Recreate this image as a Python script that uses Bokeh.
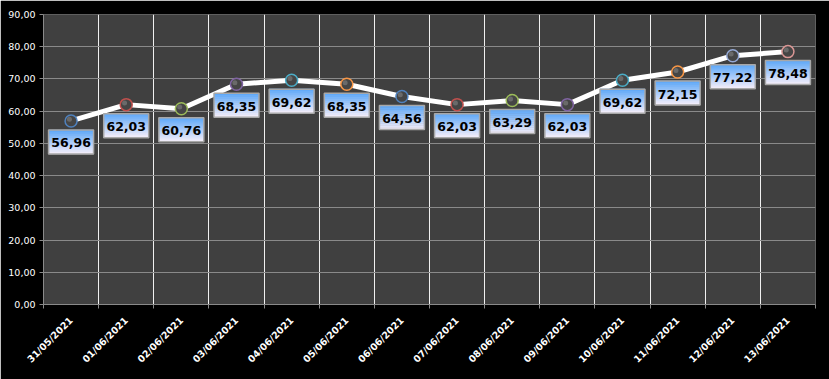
import numpy as np
from bokeh.plotting import figure
from bokeh.models import FixedTicker, Range1d
from bokeh.core.properties import value
from bokeh.embed import file_html
from bokeh.resources import INLINE

dates = ["31/05/2021", "01/06/2021", "02/06/2021", "03/06/2021", "04/06/2021",
         "05/06/2021", "06/06/2021", "07/06/2021", "08/06/2021", "09/06/2021",
         "10/06/2021", "11/06/2021", "12/06/2021", "13/06/2021"]
values = [56.96, 62.03, 60.76, 68.35, 69.62, 68.35, 64.56, 62.03, 63.29, 62.03,
          69.62, 72.15, 77.22, 78.48]
marker_colors = ["#4F81BD", "#C0504D", "#9BBB59", "#8064A2", "#4BACC6", "#F79646",
                 "#4F81BD", "#C0504D", "#9BBB59", "#8064A2", "#4BACC6", "#F79646",
                 "#95A9D6", "#D99694"]
y_ticks = [0, 10, 20, 30, 40, 50, 60, 70, 80, 90]

FW, FH = 772, 290
YMAX = 90
n = len(dates)
xs = [i + 0.5 for i in range(n)]
labels = [f"{v:.2f}".replace(".", ",") for v in values]

p = figure(frame_width=FW, frame_height=FH, output_backend="svg", toolbar_location=None,
           x_range=Range1d(0, n), y_range=Range1d(0, YMAX),
           min_border_left=43, min_border_right=14, min_border_top=14, min_border_bottom=75)
p.background_fill_color = "#404040"
p.border_fill_color = "#000000"
p.outline_line_color = None

# grids
p.ygrid.ticker = FixedTicker(ticks=y_ticks)
p.ygrid.grid_line_color = "#8a8a8a"
p.ygrid.grid_line_width = 1
p.xgrid.ticker = FixedTicker(ticks=list(range(1, n + 1)))
p.xgrid.grid_line_color = "#f0f0f0"
p.xgrid.grid_line_width = 1

# y axis
p.yaxis.ticker = FixedTicker(ticks=y_ticks)
p.yaxis.major_label_overrides = {t: f"{t:.2f}".replace(".", ",") for t in y_ticks}
p.yaxis.axis_line_color = "#8a8a8a"
p.yaxis.major_tick_line_color = "#8a8a8a"
p.yaxis.major_tick_out = 4
p.yaxis.major_tick_in = 0
p.yaxis.minor_tick_line_color = None
p.yaxis.major_label_text_color = "#ffffff"
p.yaxis.major_label_text_font = "DejaVu Sans"
p.yaxis.major_label_text_font_size = "9.5px"
p.yaxis.major_label_standoff = 4

# x axis
p.xaxis.ticker = FixedTicker(ticks=xs, minor_ticks=list(range(0, n + 1)))
p.xaxis.major_label_overrides = {x: d for x, d in zip(xs, dates)}
p.xaxis.axis_line_color = "#8a8a8a"
p.xaxis.major_tick_line_color = None
p.xaxis.minor_tick_line_color = "#8a8a8a"
p.xaxis.minor_tick_out = 4
p.xaxis.minor_tick_in = 0
p.xaxis.major_label_orientation = np.pi / 4
p.xaxis.major_label_text_color = "#ffffff"
p.xaxis.major_label_text_font = "DejaVu Sans"
p.xaxis.major_label_text_font_style = "bold"
p.xaxis.major_label_text_font_size = "9.5px"
p.xaxis.major_label_standoff = 8

# line
p.line(xs, values, line_color="#ffffff", line_width=5)

# markers
p.scatter(xs, values, size=12, fill_color="#454545", line_color=marker_colors, line_width=1.5)
p.scatter([x - 0.03 for x in xs], [v + 0.5 for v in values], size=5, fill_color="#7a7a7a",
          line_color=None, fill_alpha=0.7)

# label boxes with vertical gradient
px_per_y = FH / YMAX
BOX_W, BOX_H, OFF = 45, 24, 21
N_SL = 12
top_c = np.array([0x5a, 0xa6, 0xf8])
bot_c = np.array([0xf6, 0xee, 0xfa])
for k in range(N_SL):
    t = (k + 0.5) / N_SL
    c = (top_c * (1 - t) + bot_c * t).astype(int)
    col = "#%02x%02x%02x" % tuple(c)
    sl_h = BOX_H / N_SL
    yc = [v - (OFF - BOX_H / 2 + (k + 0.5) * sl_h) / px_per_y for v in values]
    p.rect(xs, yc, width=BOX_W, height=sl_h + 0.6, width_units="screen", height_units="screen",
           fill_color=col, line_color=None)
p.rect(xs, [v - OFF / px_per_y for v in values], width=BOX_W, height=BOX_H,
       width_units="screen", height_units="screen", fill_color=None,
       line_color="#a8a8a8", line_width=1.5)
p.text(xs, [v - OFF / px_per_y for v in values], text=labels,
       text_align="center", text_baseline="middle", text_color="#000000",
       text_font=value("DejaVu Sans"), text_font_style="bold", text_font_size="12.5px",
       y_offset=1)

html = file_html(p, INLINE)
html = html.replace("<body>", '<body style="background:#000000">', 1)
open("out.html", "w").write(html)
